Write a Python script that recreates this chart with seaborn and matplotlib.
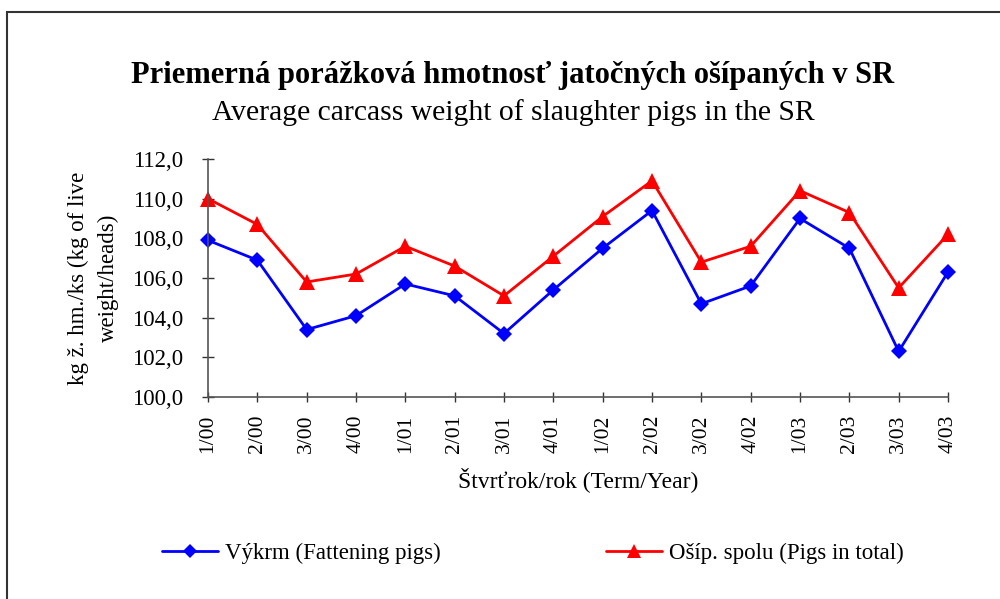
import pandas as pd
import numpy as np
import matplotlib.pyplot as plt
import seaborn as sns
from matplotlib.lines import Line2D

quarters = ['1/00', '2/00', '3/00', '4/00', '1/01', '2/01', '3/01', '4/01',
            '1/02', '2/02', '3/02', '4/02', '1/03', '2/03', '3/03', '4/03']
vykrm = [107.9, 106.9, 103.4, 104.1, 105.7, 105.1, 103.2, 105.4,
         107.5, 109.4, 104.7, 105.6, 109.0, 107.5, 102.3, 106.3]
osip_spolu = [110.0, 108.7, 105.8, 106.2, 107.6, 106.6, 105.1, 107.1,
              109.1, 110.9, 106.8, 107.6, 110.4, 109.3, 105.5, 108.2]
series_names = ['Výkrm (Fattening pigs)', 'Ošíp. spolu (Pigs in total)']
yticks = [100, 102, 104, 106, 108, 110, 112]

df = pd.DataFrame({
    'pos': list(range(len(quarters))) * 2,
    'value': vykrm + osip_spolu,
    'series': [series_names[0]] * len(quarters) + [series_names[1]] * len(quarters),
})

sns.set_style('white', {'text.color': 'black', 'axes.labelcolor': 'black',
                        'xtick.color': 'black', 'ytick.color': 'black'})
plt.rcParams['font.family'] = ['Liberation Serif', 'DejaVu Serif']

fig = plt.figure(figsize=(10, 5.99), dpi=100)
ax = fig.add_axes([0.208, 0.3372, 0.740, 0.3974])

colors = {series_names[0]: '#0000ff', series_names[1]: '#ff0000'}
marks = {series_names[0]: 'D', series_names[1]: '^'}
sizes = {series_names[0]: 8, series_names[1]: 11}

for name in series_names:
    sub = df[df.series == name]
    sns.lineplot(data=sub, x='pos', y='value', ax=ax, color=colors[name],
                 marker=marks[name], markersize=sizes[name], markeredgewidth=0,
                 linewidth=2, legend=False, clip_on=False)

ax.set_xlim(0, len(quarters) - 1)
ax.set_ylim(100, 112)
ax.set_yticks(yticks)
ax.set_yticklabels([f'{v:.1f}'.replace('.', ',') for v in yticks], fontsize=16.5)
ax.set_xticks(range(len(quarters)))
ax.set_xticklabels(quarters, rotation=90, fontsize=15.5)
ax.tick_params(axis='x', bottom=True, direction='inout', length=7, width=1,
               color='#333333', labelcolor='black', pad=9)
ax.tick_params(axis='y', left=True, direction='inout', length=8, width=1,
               color='#333333', labelcolor='black', pad=14)

for s in ['top', 'right']:
    ax.spines[s].set_visible(False)
for s in ['left', 'bottom']:
    ax.spines[s].set_color('#555555')
    ax.spines[s].set_linewidth(1.2)

ax.set_xlabel('Štvrťrok/rok (Term/Year)', fontsize=17, labelpad=10, color='black')
ax.set_ylabel('kg ž. hm./ks (kg of live\nweight/heads)', fontsize=16.5, labelpad=9,
              linespacing=1.55, color='black')

fig.text(0.513, 1 - 76 / 599, 'Priemerná porážková hmotnosť jatočných ošípaných v SR',
         ha='center', va='center', fontsize=22, fontweight='bold', color='black')
fig.text(0.513, 1 - 113 / 599, 'Average carcass weight of slaughter pigs in the SR',
         ha='center', va='center', fontsize=21.3, color='black')

handles = [Line2D([], [], color=colors[n], marker=marks[n], markersize=sizes[n] - 0.5,
                  markeredgewidth=0, linewidth=2) for n in series_names]
fig.legend(handles, series_names, loc='center left', bbox_to_anchor=(0.162, 1 - 553 / 599),
           ncol=2, frameon=False, fontsize=16.5, columnspacing=7.2, handlelength=2.45,
           handletextpad=0.3, borderpad=0, borderaxespad=0, labelcolor='black')

fig.add_artist(plt.Rectangle((0.007, -0.1), 1.2, 1 - 12 / 599 + 0.1,
                             transform=fig.transFigure, fill=False,
                             edgecolor='#333333', linewidth=1.5))

fig.savefig('out.png', dpi=100)
